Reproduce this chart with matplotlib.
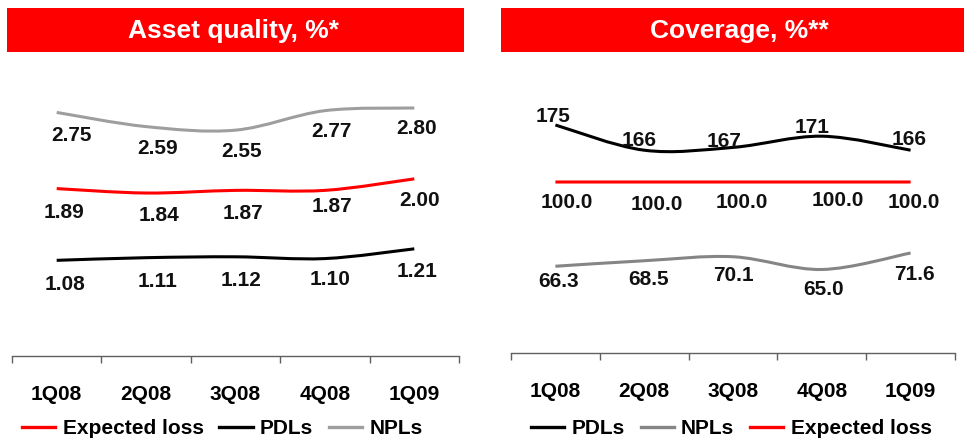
import numpy as np
import matplotlib
matplotlib.use("Agg")
import matplotlib.pyplot as plt
from matplotlib.path import Path
from matplotlib.patches import PathPatch, Rectangle
from matplotlib.lines import Line2D

plt.rcParams["font.family"] = ["Liberation Sans", "DejaVu Sans"]
plt.rcParams["font.weight"] = "bold"

W, H = 964, 441

quarters = ["1Q08", "2Q08", "3Q08", "4Q08", "1Q09"]

# Asset quality, %
aq_npl = [2.75, 2.59, 2.55, 2.77, 2.80]
aq_el  = [1.89, 1.84, 1.87, 1.87, 2.00]
aq_pdl = [1.08, 1.11, 1.12, 1.10, 1.21]

# Coverage, %
cov_pdl = [175, 166, 167, 171, 166]
cov_el  = [100.0, 100.0, 100.0, 100.0, 100.0]
cov_npl = [66.3, 68.5, 70.1, 65.0, 71.6]

# label nudges in pixels (dx right, dy down) - hand placed like the original
nudge_aq_npl  = [(15, 21), (11, 20), (6, 19), (7, 19), (2, 18)]
nudge_aq_el   = [(7, 22), (13, 20), (7, 21), (7, 14), (5, 20)]
nudge_aq_pdl  = [(8, 22), (11, 22), (6, 22), (5, 19), (3, 21)]
nudge_cov_pdl = [(-2, -10), (-5, -12), (-9, -8), (-10, -11), (-1, -13)]
nudge_cov_el  = [(11, 18), (13, 20), (9, 18), (16, 16), (3, 18)]
nudge_cov_npl = [(3, 13), (4, 17), (0, 17), (2, 18), (4, 19)]

RED = "#FF0000"
BLACK = "#000000"
GREY_L = "#9E9E9E"
GREY_R = "#858585"
AXIS = "#606060"
LW = 2.2
LABEL_FS = 15


def smooth_path(xs, ys):
    # catmull-rom style bezier through the points (like excel "smoothed line")
    p = np.column_stack([xs, ys]).astype(float)
    ext = np.vstack([p[0], p, p[-1]])
    verts = [p[0]]
    codes = [Path.MOVETO]
    for i in range(len(p) - 1):
        c1 = ext[i + 1] + (ext[i + 2] - ext[i]) / 6
        c2 = ext[i + 2] - (ext[i + 3] - ext[i + 1]) / 6
        verts += [c1, c2, p[i + 1]]
        codes += [Path.CURVE4] * 3
    return Path(verts, codes)


def draw_series(ax, vals, color, nudges, fmt):
    xs = np.arange(len(vals))
    ax.add_patch(PathPatch(smooth_path(xs, vals), fill=False, edgecolor=color,
                           lw=LW, capstyle="butt", zorder=3))
    for x, v, (dx, dy) in zip(xs, vals, nudges):
        ax.annotate(fmt.format(v), (x, v), xytext=(dx * 0.72, -(dy + 2) * 0.72),
                    textcoords="offset points", ha="center", va="center",
                    fontsize=LABEL_FS, fontweight="bold", color="#111111", zorder=4)


def style_axis(ax):
    for s in ("left", "right", "top"):
        ax.spines[s].set_visible(False)
    ax.spines["bottom"].set_color(AXIS)
    ax.spines["bottom"].set_linewidth(1.0)
    ax.set_xlim(-0.5, 4.5)
    ax.set_xticks(range(5))
    ax.set_xticklabels(quarters)
    ax.set_xticks(np.arange(-0.5, 5.0, 1.0), minor=True)
    ax.tick_params(axis="x", which="major", length=0, pad=21, labelsize=15)
    ax.tick_params(axis="x", which="minor", length=5, width=1.0, color=AXIS,
                   direction="out")
    ax.set_yticks([])
    ax.patch.set_visible(False)


fig = plt.figure(figsize=(W / 100, H / 100), dpi=100)

# --- left: asset quality
ax1 = fig.add_axes([12 / W, (H - 356) / H, 447 / W, 310 / H])
style_axis(ax1)
ax1.set_ylim(0, 3.5)
draw_series(ax1, aq_npl, GREY_L, nudge_aq_npl, "{:.2f}")
draw_series(ax1, aq_el, RED, nudge_aq_el, "{:.2f}")
draw_series(ax1, aq_pdl, BLACK, nudge_aq_pdl, "{:.2f}")

# --- right: coverage (PDLs on their own scale, like a secondary axis)
ax2 = fig.add_axes([511 / W, (H - 353) / H, 444 / W, 307 / H])
style_axis(ax2)
ax2.set_ylim(31.6, 154.4)
ax2b = ax2.twinx()
ax2b.set_ylim(93.6, 203.2)
ax2b.set_xlim(-0.5, 4.5)
ax2b.set_yticks([])
for s in ax2b.spines.values():
    s.set_visible(False)
draw_series(ax2, cov_el, RED, nudge_cov_el, "{:.1f}")
draw_series(ax2, cov_npl, GREY_R, nudge_cov_npl, "{:.1f}")
draw_series(ax2b, cov_pdl, BLACK, nudge_cov_pdl, "{:.0f}")

# --- title banners
fig.add_artist(Rectangle((7 / W, 1 - 52 / H), 457 / W, 44 / H,
                         transform=fig.transFigure, color=RED, lw=0))
fig.add_artist(Rectangle((501 / W, 1 - 52 / H), 463 / W, 44 / H,
                         transform=fig.transFigure, color=RED, lw=0))
fig.text(233.5 / W, 1 - 38 / H, "Asset quality, %*", color="white",
         fontsize=19, fontweight="bold", ha="center", va="baseline")
fig.text(739 / W, 1 - 38 / H, "Coverage, %**", color="white",
         fontsize=19, fontweight="bold", ha="center", va="baseline")

# --- legends
def handle(c):
    return Line2D([], [], color=c, lw=2.4)

leg_kw = dict(loc="center left", ncol=3, frameon=False, fontsize=15,
              handlelength=1.6, handletextpad=0.35, columnspacing=0.75,
              borderpad=0, borderaxespad=0)
leg1 = fig.legend([handle(RED), handle(BLACK), handle(GREY_L)],
                  ["Expected loss", "PDLs", "NPLs"],
                  bbox_to_anchor=(22 / W, 1 - 429 / H), **leg_kw)
leg2 = fig.legend([handle(BLACK), handle(GREY_R), handle(RED)],
                  ["PDLs", "NPLs", "Expected loss"],
                  bbox_to_anchor=(531 / W, 1 - 429 / H), **leg_kw)

fig.savefig("out.png", dpi=100)
